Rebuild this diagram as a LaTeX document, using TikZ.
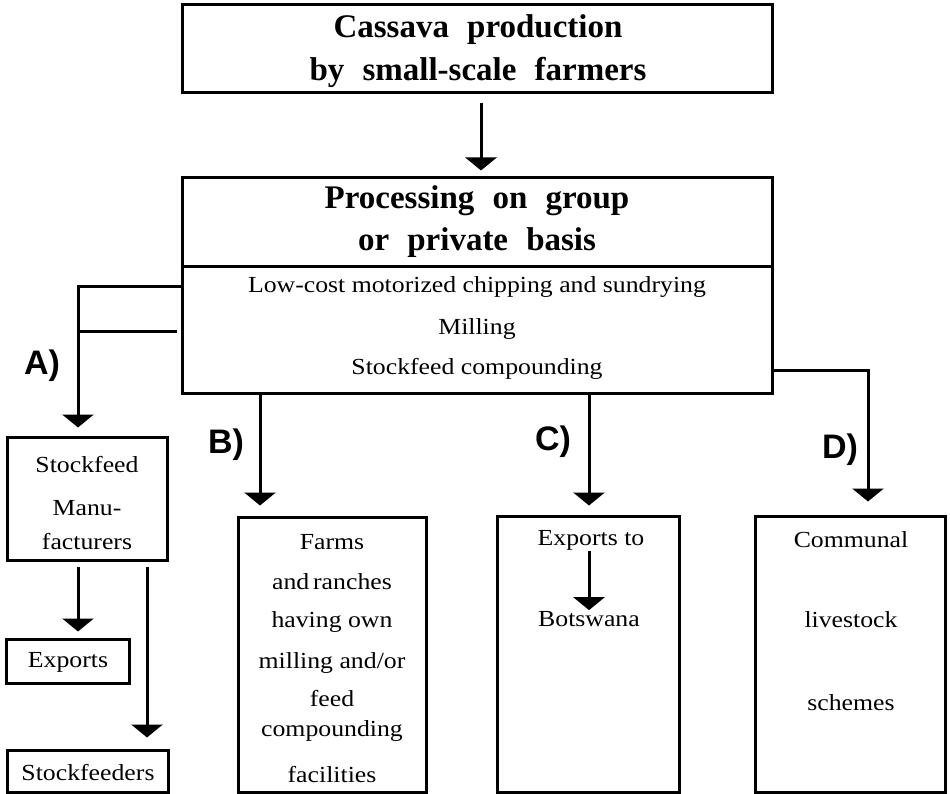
\documentclass[tikz,border=0pt]{standalone}
\usepackage{fontspec}
\setmainfont{Liberation Serif}
\newfontfamily\txtfont{Liberation Serif}[FakeStretch=1.12]
\newfontfamily\labfont{Liberation Sans}
\usetikzlibrary{arrows.meta,calc}
\newcommand\wsp{\hspace{0.3em}}
\begin{document}
\begin{tikzpicture}[x=1pt,y=-1pt,
  box/.style={draw,line width=3pt,inner sep=0pt},
  arr/.style={line width=3pt,-{Triangle[length=13pt,width=31pt]}},
  ln/.style={line width=3pt},
  ttl/.style={inner sep=0pt,font=\fontsize{33}{35}\selectfont\bfseries},
  txt/.style={inner sep=0pt,font=\txtfont\fontsize{23}{25}\selectfont},
  lab/.style={inner sep=0pt,font=\labfont\fontsize{34}{36}\selectfont\bfseries}]
\useasboundingbox (0,0) rectangle (950,794);

% boxes
\node[box,minimum width=590pt,minimum height=88pt] (top) at (477,49) {};
\node[box,minimum width=590pt,minimum height=215pt] (proc) at (477,285.5) {};
\node[box,minimum width=160pt,minimum height=123pt] (stock) at (87,498.5) {};
\node[box,minimum width=123pt,minimum height=44pt] (exports) at (67.5,661) {};
\node[box,minimum width=161pt,minimum height=42pt] (feeders) at (87.5,771) {};
\node[box,minimum width=188pt,minimum height=275pt] (farms) at (332,654.5) {};
\node[box,minimum width=182pt,minimum height=276pt] (cbox) at (588,654) {};
\node[box,minimum width=190pt,minimum height=276pt] (dbox) at (850,654) {};

% divider
\coordinate (divy) at (0,267);
\draw[ln] (proc.west |- divy) -- (proc.east |- divy);

% texts
\node[ttl] (t1) at (478,30) {Cassava\wsp{} production};
\node[ttl] (t2) at (478,72) {by\wsp{} small-scale\wsp{} farmers};
\node[ttl] (p1) at (477,201) {Processing\wsp{} on\wsp{} group};
\node[ttl] (p2) at (477,243) {or\wsp{} private\wsp{} basis};
\node[txt] (p3) at (477,287) {Low-cost motorized chipping and sundrying};
\node[txt] (p4) at (477,329) {Milling};
\node[txt] (p5) at (477,369) {Stockfeed compounding};

\node[txt] (s1) at (87,465) {Stockfeed};
\node[txt] (s2) at (87,508) {Manu-};
\node[txt] (s3) at (87,542) {facturers};
\node[txt] (ex) at (68,662) {Exports};
\node[txt] (sf) at (88,773) {Stockfeeders};

\node[txt] (f1) at (332,542) {Farms};
\node[txt] (f2) at (332,582) {and\,ranches};
\node[txt] (f3) at (332,622) {having own};
\node[txt] (f4) at (332,663) {milling and/or};
\node[txt] (f5) at (332,699) {feed};
\node[txt] (f6) at (332,731) {compounding};
\node[txt] (f7) at (332,775) {facilities};

\node[txt] (expto) at (591,540) {Exports to};
\node[txt] (botsw) at (589,619) {Botswana};

\node[txt] (d1) at (851,540) {Communal};
\node[txt] (d2) at (851,620) {livestock};
\node[txt] (d3) at (851,703) {schemes};

% labels
\node[lab] (la) at (42,366) {A)};
\node[lab] (lb) at (226,445) {B)};
\node[lab] (lc) at (553,442) {C)};
\node[lab] (ld) at (840,450) {D)};

% connectors
\coordinate (ax1) at (481,0);
\draw[arr,shorten <=9pt,shorten >=6pt] (top.south -| ax1) -- (proc.north -| ax1);

\coordinate (ay) at (0,287);
\coordinate (ay2) at (0,331);
\coordinate (ax) at (78,0);
\draw[arr,shorten >=8pt] (proc.west |- ay) -- (ay -| ax) -- (stock.north -| ax);
\draw[ln,shorten >=4pt] (ay2 -| ax) -- (proc.west |- ay2);

\coordinate (ex1) at (78,0);
\coordinate (ex2) at (147,0);
\draw[arr,shorten <=5pt,shorten >=6pt] (stock.south -| ex1) -- (exports.north -| ex1);
\draw[arr,shorten <=5pt,shorten >=11pt] (stock.south -| ex2) -- (feeders.north -| ex2);

\coordinate (bx) at (260,0);
\draw[arr,shorten >=10pt] (proc.south -| bx) -- (farms.north -| bx);
\coordinate (cx) at (589,0);
\draw[arr,shorten >=9pt] (proc.south -| cx) -- (cbox.north -| cx);
\draw[arr,shorten <=1pt,shorten >=1pt] (expto.south -| cx) -- (botsw.north -| cx);

\coordinate (dy) at (0,370);
\coordinate (dx) at (868,0);
\draw[arr,shorten >=13pt] (proc.east |- dy) -- (dy -| dx) -- (dbox.north -| dx);
\end{tikzpicture}
\end{document}
